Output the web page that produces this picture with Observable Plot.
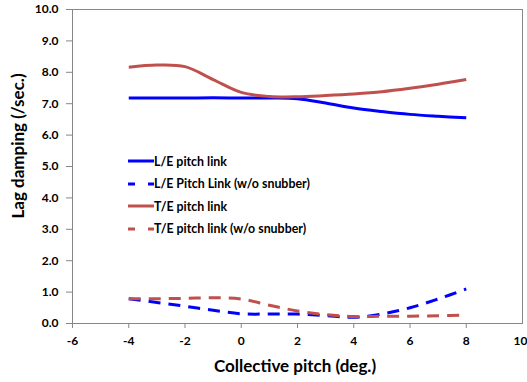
<!DOCTYPE html>
<html><head><meta charset="utf-8">
<script src="https://cdn.jsdelivr.net/npm/d3@7"></script>
<script src="https://cdn.jsdelivr.net/npm/@observablehq/plot@0.6"></script>
<style>
body{margin:0;background:#fff;}
#wrap{position:relative;width:527px;height:382px;overflow:hidden;}
#legend{position:absolute;left:128px;top:150px;font:bold 12.4px Lato, sans-serif;color:#000;}
.row{display:flex;align-items:center;height:22.5px;white-space:nowrap;}
.row svg{display:block;}
.title{position:absolute;font:bold 17px Lato, sans-serif;color:#000;white-space:nowrap;}
#xt{left:295px;top:365px;transform:translate(-50%,-50%);}
#yt{left:17px;top:146px;transform:translate(-50%,-50%) rotate(-90deg);}
</style></head><body>
<div id="wrap"><div id="chart"></div><div id="legend"></div>
<div class="title" id="xt"></div><div class="title" id="yt"></div></div>
<script>
const pitch = [-4, -3, -2, -1, 0, 1, 2, 3, 4, 5, 6, 7, 8];
const lePitchLink = [7.18, 7.18, 7.18, 7.19, 7.18, 7.18, 7.16, 7.02, 6.86, 6.75, 6.66, 6.6, 6.55];
const lePitchLinkNoSnubber = [0.79, 0.67, 0.55, 0.42, 0.31, 0.3, 0.3, 0.25, 0.2, 0.3, 0.5, 0.78, 1.1];
const tePitchLink = [8.16, 8.23, 8.18, 7.77, 7.36, 7.23, 7.22, 7.26, 7.31, 7.38, 7.49, 7.62, 7.77];
const tePitchLinkNoSnubber = [0.79, 0.79, 0.8, 0.82, 0.78, 0.58, 0.4, 0.28, 0.22, 0.23, 0.23, 0.25, 0.27];
const seriesNames = ["L/E pitch link", "L/E Pitch Link (w/o snubber)", "T/E pitch link", "T/E pitch link (w/o snubber)"];
const seriesValues = [lePitchLink, lePitchLinkNoSnubber, tePitchLink, tePitchLinkNoSnubber];
const seriesColors = ["#0000ff", "#0000ff", "#c0504d", "#c0504d"];
const seriesDashed = [false, true, false, true];
const xTicks = [-6, -4, -2, 0, 2, 4, 6, 8, 10];
const yTicks = [0, 1, 2, 3, 4, 5, 6, 7, 8, 9, 10];
const xTitle = "Collective pitch (deg.)";
const yTitle = "Lag damping (/sec.)";

const lines = seriesNames.map((name, s) => {
  const rows = pitch.map((p, i) => ({pitch: p, value: seriesValues[s][i]}));
  return Plot.line(rows, {
    x: "pitch", y: "value", stroke: seriesColors[s], strokeWidth: 3,
    curve: "catmull-rom", strokeDasharray: seriesDashed[s] ? "12,8" : null,
    strokeLinecap: "butt"
  });
});

const innerXTicks = xTicks.slice(0, -1);
const lastXTick = xTicks.slice(-1);

const chart = Plot.plot({
  width: 527, height: 382,
  marginLeft: 72, marginRight: 5, marginTop: 9, marginBottom: 59,
  style: {fontFamily: "Lato, sans-serif", fontSize: "12px", fontWeight: "bold", color: "#000", background: "#fff"},
  x: {domain: [-6, 10], label: null},
  y: {domain: [0, 10], label: null},
  marks: [
    Plot.frame({stroke: "#878787", strokeWidth: 1}),
    Plot.axisX({ticks: innerXTicks, tickFormat: d => String(d), tickSize: 5, tickPadding: 8, stroke: "#878787", label: null}),
    Plot.axisX({ticks: lastXTick, tickFormat: d => String(d), tickSize: 0, tickPadding: 13, textAnchor: "end", dx: 5, label: null}),
    Plot.axisY({ticks: yTicks, tickFormat: d => d.toFixed(1), tickSize: 6, tickPadding: 8, stroke: "#878787", label: null}),
    ...lines
  ]
});
document.getElementById("chart").appendChild(chart);
document.getElementById("xt").textContent = xTitle;
document.getElementById("yt").textContent = yTitle;

const legend = document.getElementById("legend");
seriesNames.forEach((name, s) => {
  const row = document.createElement("div");
  row.className = "row";
  const ns = "http://www.w3.org/2000/svg";
  const svg = document.createElementNS(ns, "svg");
  svg.setAttribute("width", 26); svg.setAttribute("height", 6);
  const ln = document.createElementNS(ns, "line");
  ln.setAttribute("x1", 0); ln.setAttribute("x2", 26); ln.setAttribute("y1", 3); ln.setAttribute("y2", 3);
  ln.setAttribute("stroke", seriesColors[s]); ln.setAttribute("stroke-width", 3);
  if (seriesDashed[s]) ln.setAttribute("stroke-dasharray", "7,13");
  svg.appendChild(ln);
  const span = document.createElement("span");
  span.textContent = name;
  row.appendChild(svg); row.appendChild(span);
  legend.appendChild(row);
});
</script></body></html>
